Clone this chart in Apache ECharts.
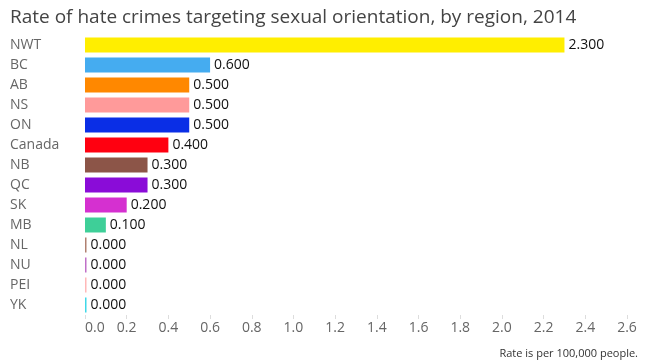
<!DOCTYPE html>
<html><head><meta charset="utf-8">
<script src="https://cdn.jsdelivr.net/npm/echarts@6/dist/echarts.min.js"></script>
<style>html,body{margin:0;padding:0;background:#fff}#c{width:645px;height:361px}</style>
</head><body><div id="c"></div>
<script>
const categories = ["NWT","BC","AB","NS","ON","Canada","NB","QC","SK","MB","NL","NU","PEI","YK"];
const values = [2.3,0.6,0.5,0.5,0.5,0.4,0.3,0.3,0.2,0.1,0,0,0,0];
const colors = ["#ffee00","#45acf0","#ff8800","#ff9a9a","#0a2ee6","#ff0010","#8c5548","#8a0cd8","#d530d0","#3ecf98","#b08070","#c070c8","#ffb8b8","#40d8e8"];
const tickLabels = ["0.0","0.2","0.4","0.6","0.8","1.0","1.2","1.4","1.6","1.8","2.0","2.2","2.4","2.6"];
const FONT = "Open Sans";
const chart = echarts.init(document.getElementById('c'), null, {renderer:'canvas'});
chart.setOption({
  animation:false,
  title:[{text:"Rate of hate crimes targeting sexual orientation, by region, 2014", left:5, top:3,
    textStyle:{fontFamily:FONT,fontSize:19,fontWeight:'normal',color:'#444'}},
    {text:"Rate is per 100,000 people.", right:2, top:343,
    textStyle:{fontFamily:FONT,fontSize:11,fontWeight:'normal',color:'#333'}}],
  grid:{left:85, right:18, top:35, bottom:46, containLabel:false},
  xAxis:{type:'value', min:0, max:2.6, interval:0.2,
    axisLine:{show:false}, splitLine:{show:false},
    axisTick:{show:true, length:4, lineStyle:{color:'#ddd'}},
    axisLabel:{fontFamily:FONT,fontSize:14,color:'#666',margin:6,
      formatter:(v)=>tickLabels[Math.round(v/0.2)],
      align:'center', alignMinLabel:'left'}},
  yAxis:{type:'category', data:categories, inverse:true,
    axisLine:{show:false}, axisTick:{show:false},
    axisLabel:{fontFamily:FONT,fontSize:14,color:'#666',align:'left',margin:75}},
  series:[{type:'bar', barWidth:15, barMinHeight:1.5,
    data: values.map((v,i)=>({value:v,itemStyle:{color:colors[i]}})),
    label:{show:true, position:'right', distance:4, fontFamily:FONT, fontSize:14, color:'#111',
      formatter:(p)=>p.value.toFixed(3)}}]
});
</script></body></html>
